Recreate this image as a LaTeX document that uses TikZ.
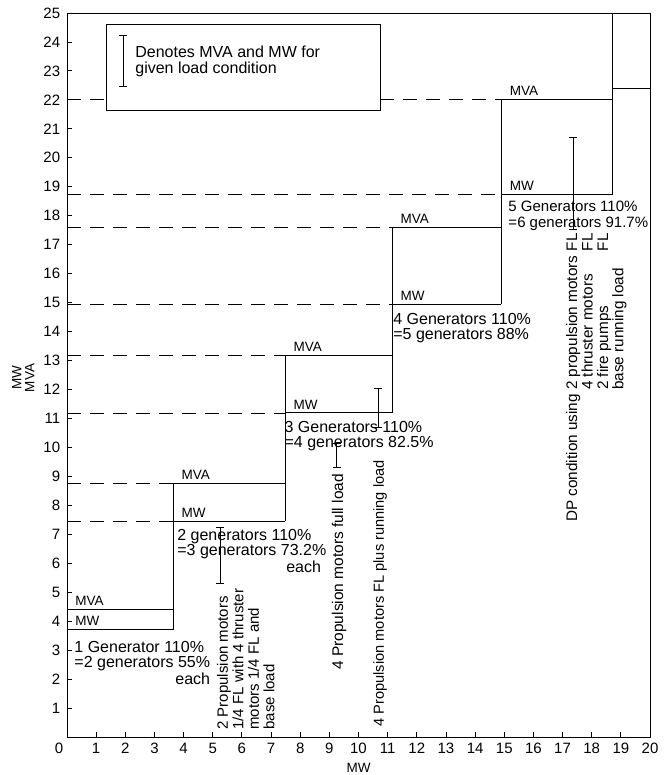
\documentclass[tikz,border=0pt]{standalone}
\usepackage{fontspec}
\setmainfont{Liberation Sans}
\usetikzlibrary{arrows.meta}
\begin{document}
\begin{tikzpicture}[x=29.15pt,y=28.96pt,line width=0.9pt,
  dline/.style={line width=0.8pt,dash pattern=on 14pt off 9pt},
  ebar/.style={{Bar[width=8pt]}-{Bar[width=8pt]},line width=0.9pt},
  lbl/.style={font=\fontsize{13.5}{14}\selectfont,inner sep=0pt,anchor=south west},
  desc/.style={font=\fontsize{16}{15.5}\selectfont,inner sep=0pt,anchor=base west},
  rdesc/.style={desc,rotate=90},
  ticklab/.style={font=\fontsize{15}{16}\selectfont,inner sep=0pt}]
\useasboundingbox (-2.2985,-1.3122) rectangle (20.5489,25.4489);
% frame
\draw (0,0) rectangle (20,25);
% ticks and labels
\foreach \k in {1,...,24} \draw (0,\k) -- (0.17,\k);
\foreach \k in {1,...,19} \draw (\k,0) -- (\k,0.17);
\foreach \k in {1,...,25} \node[ticklab,anchor=east] (yl\k) at (-0.22,\k) {\k};
\foreach \k in {1,...,20} \node[ticklab] (xl\k) at (\k,-0.4) {\k};
\node[ticklab] (xl0) at (-0.27,-0.4) {0};
\node[font=\fontsize{13.5}{13}\selectfont,rotate=90,align=center,inner sep=0pt] (ylab) at (-1.5,12.4) {MW\\MVA};
\node[font=\fontsize{13.5}{14}\selectfont,inner sep=0pt] (xlab) at (10,-1.07) {MW};
% legend
\draw (1.34,21.62) rectangle (10.74,24.62);
\coordinate (lb1) at (1.92,22.44); \coordinate (lb2) at (1.92,24.24);
\draw[ebar] (lb1) -- (lb2);
\node[desc,font=\fontsize{16}{16}\selectfont] (leg) at (2.33,23.48) {\begin{tabular}[t]{@{}l@{}}Denotes MVA and MW for\\given load condition\end{tabular}};
% dashed lines
\draw[dline] (0,7.46) -- (3.64,7.46);
\draw[dline] (0,8.77) -- (3.64,8.77);
\draw[dline] (0,11.19) -- (7.48,11.19);
\draw[dline] (0,13.19) -- (7.48,13.19);
\draw[dline] (0,14.95) -- (11.15,14.95);
\draw[dline] (0,17.6) -- (11.15,17.6);
\draw[dline] (0,18.72) -- (14.9,18.72);
\draw[dline] (0,22.03) -- (1.34,22.03);
\draw[dline] (10.74,22.03) -- (14.9,22.03);
% steps
\draw (0,3.7) -- (3.64,3.7);
\draw (0,4.4) -- (3.64,4.4);
\draw (3.64,3.7) -- (3.64,8.77);
\draw (3.64,7.46) -- (7.48,7.46);
\draw (3.64,8.77) -- (7.48,8.77);
\draw (7.48,7.46) -- (7.48,13.19);
\draw (7.48,11.19) -- (11.15,11.19);
\draw (7.48,13.19) -- (11.15,13.19);
\draw (11.15,11.19) -- (11.15,17.6);
\draw (11.15,14.95) -- (14.9,14.95);
\draw (11.15,17.6) -- (14.9,17.6);
\draw (14.9,14.95) -- (14.9,22.03);
\draw (14.9,18.72) -- (18.7,18.72);
\draw (14.9,22.03) -- (18.7,22.03);
\draw (18.7,18.72) -- (18.7,25);
\draw (18.7,22.41) -- (20,22.41);
% MVA / MW labels
\node[lbl] (mva1) at (0.27,4.52) {MVA};
\node[lbl] (mw1) at (0.27,3.82) {MW};
\node[lbl] (mva2) at (3.92,8.89) {MVA};
\node[lbl] (mw2) at (3.92,7.58) {MW};
\node[lbl] (mva3) at (7.76,13.31) {MVA};
\node[lbl] (mw3) at (7.76,11.31) {MW};
\node[lbl] (mva4) at (11.43,17.72) {MVA};
\node[lbl] (mw4) at (11.43,15.07) {MW};
\node[lbl] (mva5) at (15.18,22.15) {MVA};
\node[lbl] (mw5) at (15.18,18.84) {MW};
% descriptions
\node[desc] (d1) at (0.24,2.93) {\begin{tabular}[t]{@{}l@{}}1 Generator 110\%\\=2 generators 55\%\\\multicolumn{1}{@{}r@{}}{each}\end{tabular}};
\node[desc] (d2) at (3.77,6.80) {\begin{tabular}[t]{@{}l@{}}2 generators 110\%\\=3 generators 73.2\%\\\multicolumn{1}{@{}r@{}}{each\,\,}\end{tabular}};
\node[desc] (d3) at (7.45,10.53) {\begin{tabular}[t]{@{}l@{}}3 Generators 110\%\\=4 generators 82.5\%\end{tabular}};
\node[desc] (d4) at (11.18,14.26) {\begin{tabular}[t]{@{}l@{}}4 Generators 110\%\\=5 generators 88\%\end{tabular}};
\node[desc,font=\fontsize{15}{15.5}\selectfont] (d5) at (15.13,18.13) {\begin{tabular}[t]{@{}l@{}}5 Generators 110\%\\=6 generators 91.7\%\end{tabular}};
% error bars
\coordinate (b1a) at (5.25,5.28); \coordinate (b1b) at (5.25,7.25);
\draw[ebar] (b1a) -- (b1b);
\coordinate (b2a) at (9.26,9.3); \coordinate (b2b) at (9.26,10.15);
\draw[ebar] (b2a) -- (b2b);
\coordinate (b3a) at (10.67,10.67); \coordinate (b3b) at (10.67,12.05);
\draw[ebar] (b3a) -- (b3b);
\coordinate (b4a) at (17.36,17.5); \coordinate (b4b) at (17.36,20.72);
\draw[ebar] (b4a) -- (b4b);
% rotated texts
\node[rdesc,font=\fontsize{15}{15.5}\selectfont] (r1) at (5.52,0.24) {\begin{tabular}[t]{@{}l@{}}2 Propulsion motors\\1/4 FL with 4 thruster\\motors 1/4 FL and\\base load\end{tabular}};
\node[rdesc,font=\fontsize{15.5}{15.5}\selectfont] (r2) at (9.47,2.31) {4 Propulsion motors full load};
\node[rdesc,font=\fontsize{14.6}{15}\selectfont] (r3) at (10.87,0.35) {4 Propulsion motors FL plus running load};
\node[rdesc,font=\fontsize{15.3}{14.5}\selectfont] (r4) at (17.5,7.42) {\begin{tabular}[t]{@{}l@{\space}l@{\space}l@{}}DP condition using&2 propulsion motors&FL\\&4 thruster motors&FL\\&2 fire pumps&FL\\&base running load&\end{tabular}};
\end{tikzpicture}
\end{document}
